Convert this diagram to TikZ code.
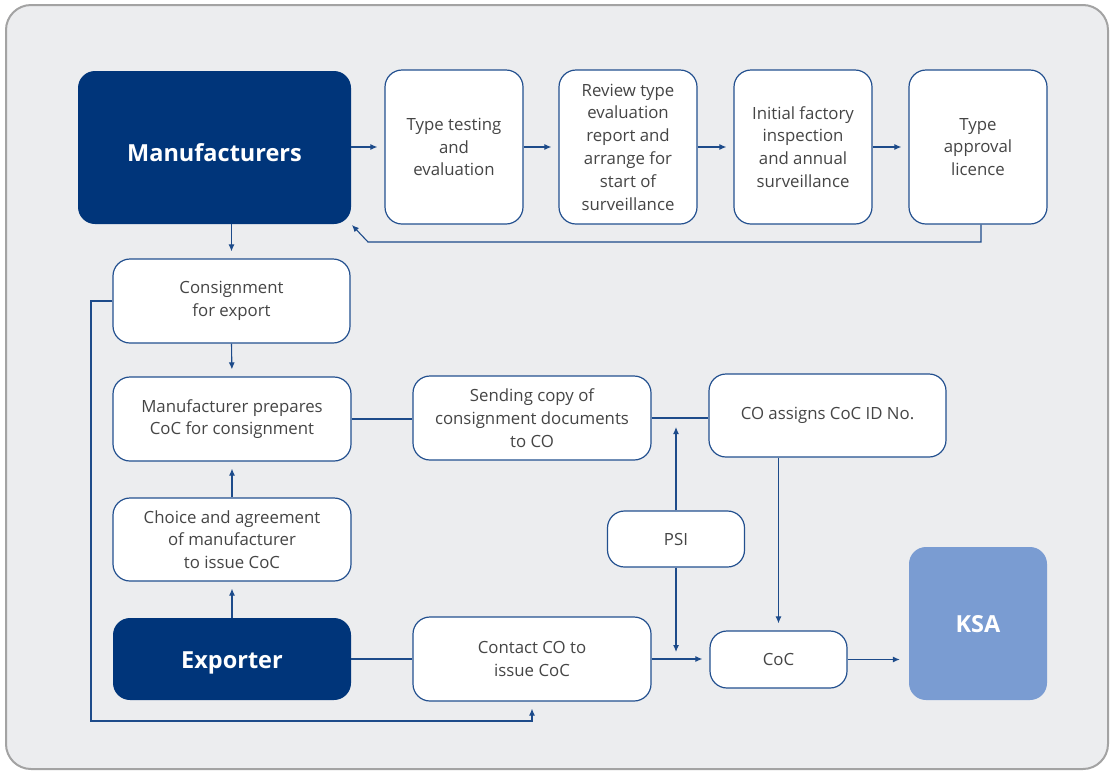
\documentclass[tikz,border=0pt]{standalone}
\usepackage{fontspec}
\setmainfont{Open Sans}
\usetikzlibrary{arrows.meta}
\definecolor{darkblue}{HTML}{00357A}
\definecolor{lightblue}{HTML}{7A9CD2}
\definecolor{bordercol}{HTML}{23508F}
\definecolor{linecol}{HTML}{1D4B8A}
\definecolor{bgcol}{HTML}{ECEDEF}
\definecolor{framecol}{HTML}{A3A3A3}
\definecolor{textgrey}{HTML}{454545}
\tikzset{
  box/.style={draw=bordercol, line width=1.2pt, fill=white, rounded corners=17pt,
    align=center, text=textgrey, inner sep=2pt,
    font=\fontsize{16.8}{22.8}\selectfont},
  darkbox/.style={fill=darkblue, rounded corners=17pt, align=center, text=white,
    font=\fontsize{23.5}{27}\selectfont\bfseries},
  ksabox/.style={fill=lightblue, rounded corners=17pt, align=center, text=white,
    font=\fontsize{23.5}{27}\selectfont\bfseries},
  conn/.style={draw=linecol, line width=1.1pt},
  arr/.style={conn, -{Latex[length=7pt,width=6pt]}, shorten >=7pt},
}
\begin{document}
\begin{tikzpicture}[x=1pt,y=-1pt]
\useasboundingbox (0,0) rectangle (1111,772);
\draw[draw=framecol, line width=2pt, fill=bgcol, rounded corners=25pt] (6,5) rectangle (1108,769);

\node[darkbox, minimum width=273pt, minimum height=153pt, text height=28pt] (man) at (214.5,147.5) {Manufacturers};
\node[box, minimum width=138pt, minimum height=154pt] (tt) at (454,147) {Type testing\\and\\evaluation};
\node[box, minimum width=138pt, minimum height=154pt] (rev) at (628,147) {Review type\\evaluation\\report and\\arrange for\\start of\\surveillance};
\node[box, minimum width=138pt, minimum height=154pt] (ini) at (803,147) {Initial factory\\inspection\\and annual\\surveillance};
\node[box, minimum width=138pt, minimum height=154pt] (tal) at (978,147) {Type\\approval\\licence};

\node[box, minimum width=237pt, minimum height=84pt] (cons) at (231.5,301) {Consignment\\for export};
\node[box, minimum width=238pt, minimum height=84pt] (prep) at (232,419) {Manufacturer prepares\\CoC for consignment};
\node[box, minimum width=238pt, minimum height=84pt] (send) at (532,418) {Sending copy of\\consignment documents\\to CO};
\node[box, minimum width=237pt, minimum height=83pt] (coa) at (827.5,415.5) {CO assigns CoC ID No.};
\node[box, minimum width=238pt, minimum height=83pt] (choice) at (232,539.5) {Choice and agreement\\of manufacturer\\to issue CoC};
\node[box, minimum width=137pt, minimum height=56pt] (psi) at (676,539) {PSI};
\node[ksabox, minimum width=138pt, minimum height=153pt, text height=19pt] (ksa) at (978,623.5) {KSA};
\node[darkbox, minimum width=238pt, minimum height=82pt, text height=25pt] (exp) at (232,659) {Exporter};
\node[box, minimum width=238pt, minimum height=84pt] (contact) at (532,659) {Contact CO to\\issue CoC};
\node[box, minimum width=137pt, minimum height=57pt] (coc) at (778.5,659.5) {CoC};

% top row
\draw[arr] (man.east |- tt.west) -- (tt.west);
\draw[arr] (tt.east) -- (rev.west);
\draw[arr] (rev.east) -- (ini.west);
\draw[arr] (ini.east) -- (tal.west);
\coordinate (r1) at (981,242);
\coordinate (r2) at (368,242);
\draw[arr, shorten >=1pt] (tal.south -| r1) -- (r1) -- (r2) -- (man.south east);

% left column
\draw[arr] (man.south -| cons.north) -- (cons.north);
\draw[arr] (cons.south) -- (prep.north);
\draw[arr] (choice.north) -- (prep.south);
\draw[arr] (exp.north) -- (choice.south);

% middle
\draw[conn] (prep.east) -- (prep.east -| send.west);
\draw[conn] (send.east) -- (send.east -| coa.west);
\draw[arr, shorten >=9pt] (psi.north) -- (psi.north |- send.east);
\draw[arr] (psi.south) -- (psi.south |- contact.east);
\draw[conn] (exp.east) -- (contact.west);
\draw[arr] (contact.east) -- (contact.east -| coc.west);
\draw[arr] (coa.south -| coc.north) -- (coc.north);
\draw[arr, shorten >=9pt] (coc.east) -- (coc.east -| ksa.west);

% loop from consignment to contact
\coordinate (l1) at (91,721);
\draw[arr] (cons.west) -| (l1) -| (contact.south);
\end{tikzpicture}
\end{document}
